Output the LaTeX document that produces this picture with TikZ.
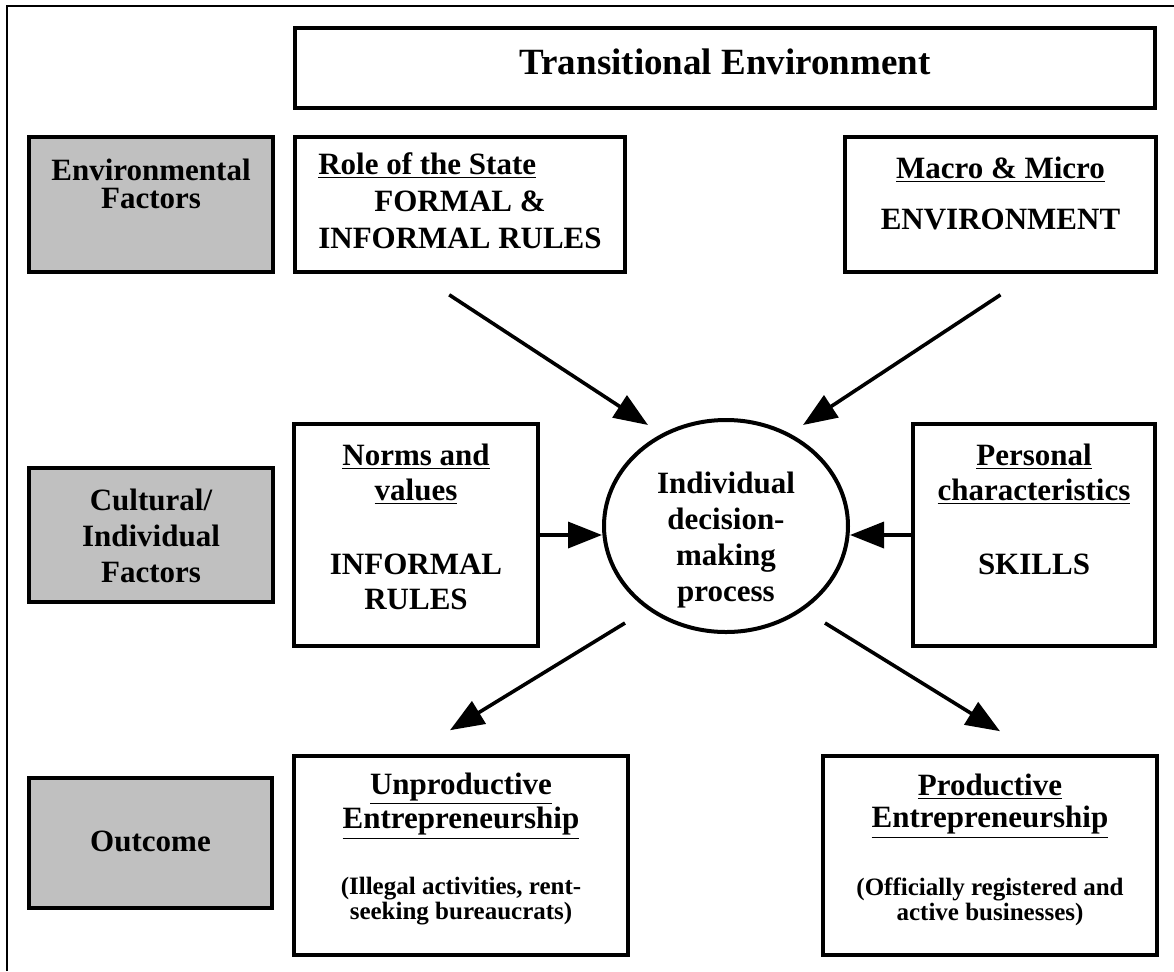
\documentclass[tikz,border=0pt]{standalone}
\usepackage{fontspec}
\setmainfont{Liberation Serif}
\usepackage{tikz}
\usetikzlibrary{shapes, arrows.meta, positioning}
\definecolor{factorgrey}{RGB}{192,192,192}
\tikzstyle{block} = [draw, line width=1.8pt, rectangle, inner sep=0pt]
\tikzstyle{factor} = [block, fill=factorgrey]
\tikzstyle{txt} = [align=center, inner sep=0pt]
\newcommand{\head}[1]{\underline{#1}}
\newcommand{\bodyfont}[1]{\fontsize{15.5}{#1}\selectfont\bfseries}
\newcommand{\smallfont}{\fontsize{12.5}{12.5}\selectfont}

\begin{document}
\begin{tikzpicture}[x=0.5pt, y=-0.5pt, >={Triangle[length=17pt, width=13pt]}]
  \useasboundingbox (0,0) rectangle (1174,971);
  \draw[line width=1pt] (7,971) -- (7,6) -- (1174,6);

  \node[block, minimum width=430pt, minimum height=40pt] (trans) at (725,68) {};
  \node[txt, font=\fontsize{18.5}{20}\selectfont\bfseries] (trans-t) at (725,62) {Transitional Environment};

  % environmental row
  \node[factor, minimum width=122pt, minimum height=67.5pt] (envf) at (151,204.5) {};
  \node[txt, font=\bodyfont{14}] (envf-t) at (151,183.5) {Environmental\\Factors};
  \node[block, minimum width=165pt, minimum height=67.5pt, right=9.3pt of envf] (role) {};
  \node[txt, align=left, font=\bodyfont{18.5}] (role-t) at (460,201) {\head{Role of the State}\\\hspace*{28pt}FORMAL \&\\INFORMAL RULES};
  \node[block, minimum width=155.5pt, minimum height=67.5pt] (macro) at (1000.5,204.5) {};
  \node[txt, font=\bodyfont{18}] (macro-t) at (1000.5,193) {\head{Macro \& Micro}\\[7.5pt]ENVIRONMENT};

  % cultural row
  \node[factor, minimum width=122pt, minimum height=67pt] (cultf) at (151,535) {};
  \node[txt, font=\bodyfont{18}] (cultf-t) at (151,535.5) {Cultural/\\Individual\\Factors};
  \node[block, minimum width=122pt, minimum height=111pt, right=8.8pt of cultf] (norms) {};
  \node[txt, font=\bodyfont{17.5}] (norms-t) at (416,527) {\head{Norms and}\\\head{values}\\[19.5pt]INFORMAL\\RULES};
  \node[block, minimum width=121pt, minimum height=111pt] (pers) at (1034,535) {};
  \node[txt, font=\bodyfont{17.5}] (pers-t) at (1034,509.5) {\head{Personal}\\\head{characteristics}\\[19.5pt]SKILLS};
  \node[draw, ellipse, line width=2pt, minimum width=122pt, minimum height=106pt, inner sep=0pt] (dm) at (726,526) {};
  \node[txt, font=\bodyfont{18}] (dm-t) at (726,540) {Individual\\decision-\\making\\process};

  % outcome row
  \node[factor, minimum width=121.5pt, minimum height=65pt] (outc) at (150.5,843) {};
  \node[txt, font=\bodyfont{17}] (outc-t) at (150.5,841.5) {Outcome};
  \node[block, minimum width=167pt, minimum height=99.5pt] (unprod) at (461,855.5) {};
  \node[txt, font=\bodyfont{16}] (unprod-t) at (461,849) {\head{Unproductive}\\\head{Entrepreneurship}\\[17pt]\smallfont (Illegal activities, rent-\\[-3.5pt]\smallfont seeking bureaucrats)};
  \node[block, minimum width=167pt, minimum height=99.5pt] (prod) at (990,855.5) {};
  \node[txt, font=\bodyfont{16}] (prod-t) at (990,850) {\head{Productive}\\\head{Entrepreneurship}\\[18pt]\smallfont (Officially registered and\\[-3.5pt]\smallfont active businesses)};

  % arrows
  \draw[->, line width=1.8pt] ([shift={(-11,21)}]role.south) -- ([shift={(-78,-101)}]dm.center);
  \draw[->, line width=1.8pt] ([shift={(0,21)}]macro.south) -- ([shift={(77,-101)}]dm.center);
  \draw[->, line width=1.8pt] (norms.east) -- (norms.east -| dm.west);
  \draw[->, line width=1.8pt] (pers.west) -- (pers.west -| dm.east);
  \draw[->, line width=1.8pt] ([shift={(-101,97)}]dm.center) -- ([shift={(-11,-24)}]unprod.north);
  \draw[->, line width=1.8pt] ([shift={(99,97)}]dm.center) -- ([shift={(10,-23)}]prod.north);
\end{tikzpicture}
\end{document}
